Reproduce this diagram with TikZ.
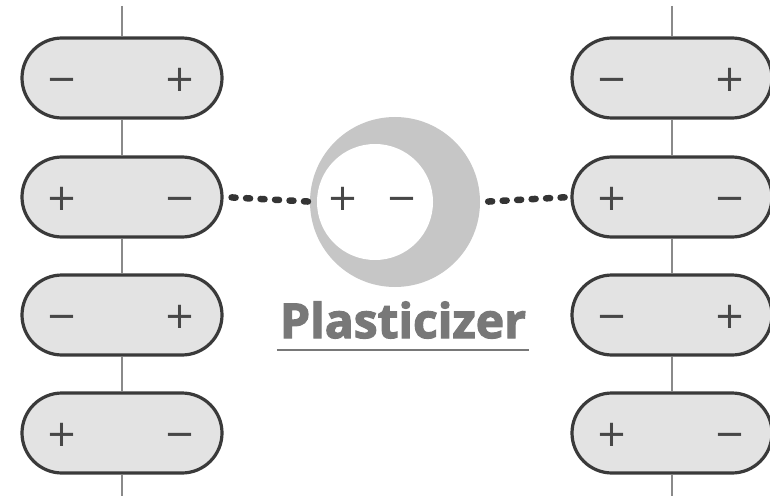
\documentclass[tikz,border=0pt]{standalone}
\usepackage{fontspec}
\setmainfont{Open Sans}
\newfontfamily\signfont{DejaVu Sans}
\newfontfamily\plasfont{Open Sans}[BoldFeatures={FakeBold=2.5}]
\usetikzlibrary{positioning,shapes.misc}
\definecolor{pillfill}{HTML}{E3E3E3}
\definecolor{pillline}{HTML}{3A3A3A}
\definecolor{stemcol}{HTML}{8A8A8A}
\definecolor{signcol}{HTML}{474747}
\definecolor{ringcol}{HTML}{C6C6C6}
\definecolor{textcol}{HTML}{787878}
\tikzstyle{pill}=[draw=pillline,fill=pillfill,rounded rectangle,line width=3.2pt,
  minimum width=200pt,minimum height=80pt,inner sep=0pt]
\tikzstyle{sign}=[font=\signfont\fontsize{37}{37}\selectfont,text=signcol,inner sep=0pt]
\tikzstyle{stem}=[draw=stemcol,line width=2pt]
\tikzstyle{bond}=[draw=pillline!90!black,line width=6.5pt,line cap=round,dash pattern=on 4pt off 10.5pt,dash phase=-8pt]
\newcommand{\newPill}[4]{\node[pill](#1) at (#2) {};
  \node[sign](#1a) at ([xshift=-60pt,yshift=-2pt]#1.center) {\vphantom{+}#3};
  \node[sign](#1b) at ([xshift=58pt,yshift=-2pt]#1.center) {\vphantom{+}#4};}

\begin{document}
\begin{tikzpicture}[x=1pt,y=-1pt]
    \useasboundingbox (0,0) rectangle (770,497);
    \coordinate (Ltop) at (122,6);
    \coordinate (Lbot) at (122,496);
    \coordinate (Rtop) at (672,6);
    \coordinate (Rbot) at (672,496);
    % chains
    \newPill{L1}{122,78}{−}{+}
    \newPill{L2}{122,197}{+}{−}
    \newPill{L3}{122,315}{−}{+}
    \newPill{L4}{122,433}{+}{−}
    \newPill{R1}{672,78}{−}{+}
    \newPill{R2}{672,197}{+}{−}
    \newPill{R3}{672,315}{−}{+}
    \newPill{R4}{672,433}{+}{−}
    \foreach \s in {L,R}{
      \draw[stem] (\s top) -- (\s1.north) (\s1.south) -- (\s2.north)
        (\s2.south) -- (\s3.north) (\s3.south) -- (\s4.north) (\s4.south) -- (\s bot);
    }
    % plasticizer
    \node[circle,fill=ringcol,minimum size=170pt,inner sep=0pt](ring) at (395,202) {};
    \node[circle,fill=white,minimum size=116pt,inner sep=0pt](hole) at (375,202) {};
    \node[sign](holea) at (343,199) {\vphantom{+}+};
    \node[sign](holeb) at (402,199) {\vphantom{+}−};
    \draw[bond] (L2.east) -- (hole.west);
    \draw[bond] (ring.east) -- (R2.west);
    \node[font=\plasfont\bfseries\fontsize{48}{48}\selectfont,text=textcol,anchor=base,inner xsep=3pt](plast) at (403,338) {Plasticizer};
    \draw[textcol,line width=2.8pt] ([yshift=-12pt]plast.base west) -- ([yshift=-12pt]plast.base east);
\end{tikzpicture}
\end{document}
